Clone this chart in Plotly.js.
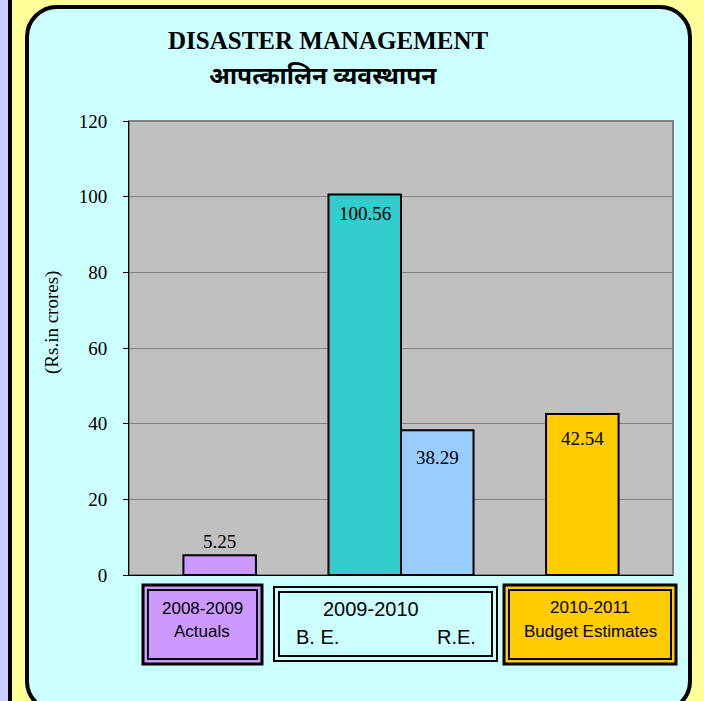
<!DOCTYPE html>
<html>
<head>
<meta charset="utf-8">
<script src="https://cdn.plot.ly/plotly-3.0.1.min.js"></script>
<style>
  html, body { margin:0; padding:0; width:704px; height:701px; overflow:hidden; background:#ffff99; position:relative; }
  #strip { position:absolute; left:0; top:0; width:8px; height:701px; background:#ccccff; }
  #stripLine { position:absolute; left:8px; top:0; width:4px; height:701px; background:#000; }
  #panel { position:absolute; left:25px; top:5px; width:659px; height:700px; background:#ccffff;
           border:4px solid #000; border-radius:32px; box-sizing:content-box; }
  #chart { position:absolute; left:0; top:0; width:704px; height:701px; }
</style>
</head>
<body>
<div id="strip"></div>
<div id="stripLine"></div>
<div id="panel"></div>
<div id="chart"></div>
<script>
// ---- data ----
var categories = ['2008-2009', '2009-2010', '2010-2011'];
var categorySubtitles = ['Actuals', '', 'Budget Estimates'];
var seriesNames = ['Actuals', 'B. E.', 'R.E.', 'Budget Estimates'];
var seriesCategory = ['2008-2009', '2009-2010', '2009-2010', '2010-2011'];
var seriesValues = [5.25, 100.56, 38.29, 42.54];
var valueLabels = ['5.25', '100.56', '38.29', '42.54'];
var subLabels = ['B. E.', 'R.E.'];
var yTicks = [0, 20, 40, 60, 80, 100, 120];
var titleText = 'DISASTER MANAGEMENT';
var titleHindi = 'आपत्कालिन व्यवस्थापन';
var yTitle = '(Rs.in crores)';

// ---- style ----
var barColors = ['#cc99ff', '#33cccc', '#99ccff', '#ffcc00'];
var barOffsets = [-0.2, -0.4, 0, -0.2];
var barWidth = 0.4;
var labelShift = [14, -19, -27, -24];
var boxFills = ['#cc99ff', '#ccffff', '#ffcc00'];

var L = 129, R = 673, T = 121, B = 575;
function px(x) { return (x - L) / (R - L); }
function py(y) { return (B - y) / (B - T); }

var serif = 'Liberation Serif, Times New Roman, serif';
var narrow = 'Liberation Sans Narrow, Arial Narrow, Liberation Sans, Arial, sans-serif';

function note(x, y, text, font, extra) {
  var a = { x: px(x), y: py(y), xref: 'paper', yref: 'paper', text: text, showarrow: false,
    xanchor: 'center', yanchor: 'middle', font: font };
  if (extra) for (var k in extra) a[k] = extra[k];
  return a;
}

var traces = seriesValues.map(function (v, i) {
  return {
    type: 'bar',
    x: [seriesCategory[i]],
    y: [v],
    name: seriesNames[i],
    width: barWidth,
    offset: barOffsets[i],
    marker: { color: barColors[i], line: { color: '#000', width: 2 } },
    hoverinfo: 'skip'
  };
});

var annotations = [];
seriesValues.forEach(function (v, i) {
  var ci = categories.indexOf(seriesCategory[i]);
  annotations.push({
    x: ci + barOffsets[i] + barWidth / 2, y: v, xref: 'x', yref: 'y',
    xanchor: 'center', yanchor: 'middle',
    text: valueLabels[i], showarrow: false, yshift: labelShift[i],
    font: { family: serif, size: 19, color: '#000' }
  });
});

annotations.push(note(328, 41, '<b>' + titleText + '</b>', { family: serif, size: 25, color: '#000' }));
annotations.push(note(323, 78, '<b>' + titleHindi + '</b>',
  { family: 'Noto Sans Devanagari, Lohit Devanagari, FreeSans, Noto Sans, sans-serif', size: 24.5, color: '#000' }));
annotations.push(note(52, 323, yTitle, { family: serif, size: 19, color: '#000' }, { textangle: -90 }));

// category boxes
var boxes = [
  { x0: 143, x1: 262, y0: 585, y1: 664, w: 3 },
  { x0: 274, x1: 497, y0: 587, y1: 661, w: 2 },
  { x0: 504, x1: 676, y0: 585, y1: 664, w: 3 }
];
var shapes = [
  { type: 'rect', xref: 'paper', yref: 'paper', x0: 0, x1: 1, y0: 0, y1: 1, line: { color: '#808080', width: 2 }, layer: 'below' }
];
boxes.forEach(function (b, i) {
  shapes.push({ type: 'rect', xref: 'paper', yref: 'paper', x0: px(b.x0), x1: px(b.x1), y0: py(b.y1), y1: py(b.y0),
    fillcolor: boxFills[i], line: { color: '#000', width: b.w } });
  shapes.push({ type: 'rect', xref: 'paper', yref: 'paper', x0: px(b.x0 + 5), x1: px(b.x1 - 5), y0: py(b.y1 - 5), y1: py(b.y0 + 5),
    line: { color: '#000', width: 2 } });
});

var boxText = [
  { x: 202, y: 608, size: 17 },
  { x: 371, y: 609, size: 20 },
  { x: 590, y: 607, size: 17 }
];
categories.forEach(function (c, i) {
  annotations.push(note(boxText[i].x, boxText[i].y, c, { family: narrow, size: boxText[i].size, color: '#000' }));
  if (categorySubtitles[i]) {
    annotations.push(note(boxText[i].x, 631, categorySubtitles[i], { family: narrow, size: 17, color: '#000' }));
  }
});
var subX = [317, 456];
subLabels.forEach(function (s, i) {
  annotations.push(note(subX[i], 637, s, { family: narrow, size: 20, color: '#000' }));
});

var layout = {
  width: 704, height: 701,
  margin: { l: L, r: 704 - R, t: T, b: 701 - B, pad: 0 },
  paper_bgcolor: 'rgba(0,0,0,0)',
  plot_bgcolor: '#c0c0c0',
  barmode: 'overlay',
  showlegend: false,
  xaxis: { type: 'category', categoryarray: categories, range: [-0.5, 2.5], showticklabels: false,
    ticks: '', showline: true, linecolor: '#000', linewidth: 1, showgrid: false, zeroline: false, fixedrange: true },
  yaxis: { range: [0, 120], tickvals: yTicks, ticks: 'outside', ticklen: 5, tickcolor: '#000',
    showline: true, linecolor: '#000', linewidth: 1, gridcolor: '#808080', gridwidth: 1, zeroline: false,
    ticklabelstandoff: 12, automargin: false,
    tickfont: { family: serif, size: 19, color: '#000' } },
  shapes: shapes,
  annotations: annotations
};

Plotly.newPlot('chart', traces, layout, { staticPlot: true });
</script>
</body>
</html>
